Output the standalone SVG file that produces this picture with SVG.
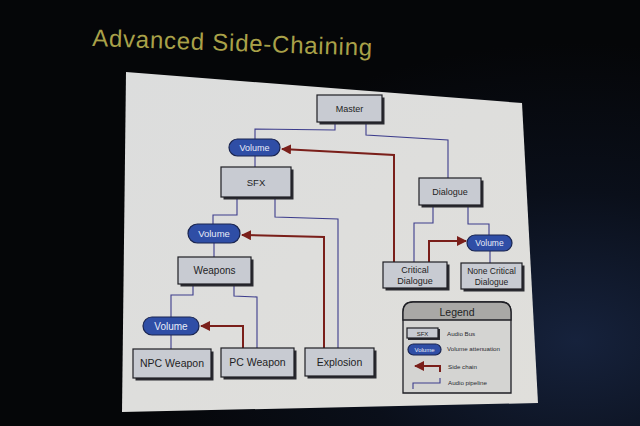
<svg xmlns="http://www.w3.org/2000/svg" width="640" height="426" viewBox="0 0 640 426">
<defs>
<radialGradient id="bg" cx="0.9" cy="0.8" r="0.7">
<stop offset="0" stop-color="#16223c"/>
<stop offset="0.5" stop-color="#0a0f1a"/>
<stop offset="1" stop-color="#050608"/>
</radialGradient>
<linearGradient id="slide" x1="0" y1="0" x2="1" y2="1">
<stop offset="0" stop-color="#dcdddd"/>
<stop offset="1" stop-color="#e0dfdb"/>
</linearGradient>
<marker id="ah" viewBox="0 0 10 10" refX="9" refY="5" markerWidth="5" markerHeight="5" orient="auto-start-reverse">
<path d="M0,0 L10,5 L0,10 z" fill="#7a1f1a"/>
</marker>
<style>
.box{fill:#c8cbd2;stroke:#1e1e24;stroke-width:1.2}
.sh{fill:#2a2a30}
.pill{fill:#2f4ea6;stroke:#1a2550;stroke-width:1.2}
.t{font-family:"Liberation Sans",Arial,sans-serif;fill:#1e1e24;text-anchor:middle}
.tw{font-family:"Liberation Sans",Arial,sans-serif;fill:#e8ecf8;text-anchor:middle}
.pipe{fill:none;stroke:#3c3c8c;stroke-width:1.1}
.side{fill:none;stroke:#7a1f1a;stroke-width:2}
.lt{font-family:"Liberation Sans",Arial,sans-serif;fill:#2a2a30;font-size:6.2px}
</style>
</defs>
<rect width="640" height="426" fill="url(#bg)"/>
<text x="92" y="46" font-family="Liberation Sans,Arial,sans-serif" font-size="24" fill="#a9a148" transform="rotate(2 92 46)" textLength="280">Advanced Side-Chaining</text>
<polygon points="126,72 522,103 538,403 122,412" fill="url(#slide)"/>

<g id="connectors">
<path class="pipe" d="M335,122 V130 L255,129 V139"/>
<path class="pipe" d="M366,122 V135 L448,140 V178"/>
<path class="pipe" d="M255,156 V167"/>
<path class="pipe" d="M237,197 V215 H213 V224"/>
<path class="pipe" d="M275,197 V217 L338,219 V348"/>
<path class="pipe" d="M214,243 V257"/>
<path class="pipe" d="M193,284 V295 H171 V317"/>
<path class="pipe" d="M234,284 V296 L257,297 V348"/>
<path class="pipe" d="M171,335 V349"/>
<path class="pipe" d="M433,205 V223 H414 V262"/>
<path class="pipe" d="M468,205 V224 H489 V235"/>
<path class="pipe" d="M490,250 V263"/>
<path class="side" d="M394,262 V155 L282,149" marker-end="url(#ah)"/>
<path class="side" d="M324,348 V237 L242,235" marker-end="url(#ah)"/>
<path class="side" d="M243,348 V326 H201" marker-end="url(#ah)"/>
<path class="side" d="M429,262 V241 H466" marker-end="url(#ah)"/>
</g>

<g id="master"><rect class="sh" x="319.5" y="97.5" width="65" height="27"/><rect class="box" x="317" y="95" width="65" height="27"/><text class="t" x="349.5" y="112" font-size="9">Master</text></g>
<g id="volume-sfx"><rect class="pill" x="229" y="139" width="51" height="17" rx="8.5"/><text class="tw" x="254.5" y="150.5" font-size="9">Volume</text></g>
<g id="sfx"><rect class="sh" x="223.5" y="169.5" width="70" height="30"/><rect class="box" x="221" y="167" width="70" height="30"/><text class="t" x="256" y="185.5" font-size="9.5">SFX</text></g>
<g id="dialogue"><rect class="sh" x="421.5" y="180.5" width="62" height="27"/><rect class="box" x="419" y="178" width="62" height="27"/><text class="t" x="450" y="194.5" font-size="9">Dialogue</text></g>
<g id="volume-weapons"><rect class="pill" x="188" y="224" width="52" height="19" rx="9.5"/><text class="tw" x="214" y="236.5" font-size="9.5">Volume</text></g>
<g id="volume-noncritical"><rect class="pill" x="467" y="235" width="45" height="16" rx="8"/><text class="tw" x="489.5" y="246" font-size="8.5">Volume</text></g>
<g id="weapons"><rect class="sh" x="180.5" y="259.5" width="73" height="27"/><rect class="box" x="178" y="257" width="73" height="27"/><text class="t" x="214.5" y="273.5" font-size="10">Weapons</text></g>
<g id="critical-dialogue"><rect class="sh" x="385.5" y="264.5" width="64" height="26"/><rect class="box" x="383" y="262" width="64" height="26"/><text class="t" x="415" y="272.5" font-size="9">Critical</text><text class="t" x="415" y="283.5" font-size="9">Dialogue</text></g>
<g id="none-critical-dialogue"><rect class="sh" x="463.5" y="265.5" width="61" height="26"/><rect class="box" x="461" y="263" width="61" height="26"/><text class="t" x="491.5" y="273.5" font-size="8.5">None Critical</text><text class="t" x="491.5" y="284.5" font-size="8.5">Dialogue</text></g>
<g id="volume-npc"><rect class="pill" x="143" y="317" width="56" height="18" rx="9"/><text class="tw" x="171" y="329.5" font-size="10">Volume</text></g>
<g id="npc-weapon"><rect class="sh" x="135.5" y="351.5" width="78" height="29"/><rect class="box" x="133" y="349" width="78" height="29"/><text class="t" x="172" y="367" font-size="10.5">NPC Weapon</text></g>
<g id="pc-weapon"><rect class="sh" x="223.5" y="350.5" width="73" height="29"/><rect class="box" x="221" y="348" width="73" height="29"/><text class="t" x="257.5" y="366" font-size="10.5">PC Weapon</text></g>
<g id="explosion"><rect class="sh" x="307.5" y="350.5" width="69" height="28"/><rect class="box" x="305" y="348" width="69" height="28"/><text class="t" x="339.5" y="365.5" font-size="10.5">Explosion</text></g>

<g id="legend">
<path d="M403,393 V312 Q403,302 413,302 H501 Q511,302 511,312 V393 Z" fill="#d4d4d2" stroke="#1e1e24" stroke-width="1.3"/>
<path d="M403,320 V312 Q403,302 413,302 H501 Q511,302 511,312 V320 Z" fill="#a9a8a6" stroke="#1e1e24" stroke-width="1.3"/>
<text class="t" x="457" y="316" font-size="10.5">Legend</text>
<rect x="408" y="329" width="32" height="11" fill="#2a2a30"/>
<rect class="box" x="407" y="328" width="31" height="10"/>
<text class="t" x="422.5" y="335.5" font-size="6">SFX</text>
<text class="lt" x="447" y="336">Audio Bus</text>
<rect class="pill" x="408" y="344" width="33" height="11" rx="5.5"/>
<text class="tw" x="424.5" y="351.5" font-size="6">Volume</text>
<text class="lt" x="447" y="351">Volume attenuation</text>
<path class="side" d="M440,372 V366 H415" marker-end="url(#ah)"/>
<text class="lt" x="448" y="369">Side chain</text>
<path class="pipe" d="M440,378 V383 H413 V389"/>
<text class="lt" x="448" y="385">Audio pipeline</text>
</g>
</svg>
